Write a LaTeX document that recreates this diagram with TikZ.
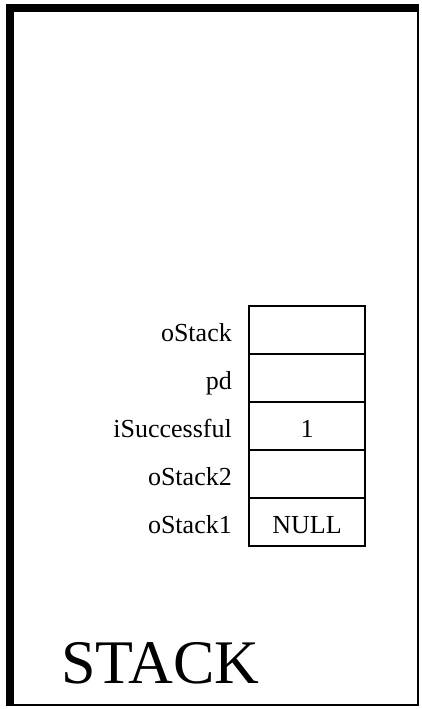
\documentclass[tikz,border=0pt]{standalone}
\usepackage{fontspec}
\setmainfont{Liberation Serif}
\begin{document}
\begin{tikzpicture}[x=1pt,y=-1pt,
  cell/.style={draw=black,line width=2pt,minimum width=116pt,minimum height=48pt,inner sep=0pt},
  val/.style={anchor=base,inner sep=0pt,font=\fontsize{26}{30}\selectfont},
  lbl/.style={anchor=base east,inner sep=0pt,font=\fontsize{26}{30}\selectfont}]
\useasboundingbox (0,0) rectangle (421,709);
\fill[black] (6,4) rectangle (419,706);
\fill[white] (14,12) rectangle (417,704);
\node[cell] (c1) at (307,330) {};
\node[cell] (c2) at (307,378) {};
\node[cell] (c3) at (307,426) {};
\node[cell] (c4) at (307,474) {};
\node[cell] (c5) at (307,522) {};
\node[val] (v3) at (307,437) {1};
\node[val] (v5) at (307,533) {NULL};
\node[lbl] (l1) at (232,341) {oStack};
\node[lbl] (l2) at (232,389) {pd};
\node[lbl] (l3) at (232,437) {iSuccessful};
\node[lbl] (l4) at (232,485) {oStack2};
\node[lbl] (l5) at (232,533) {oStack1};
\node[anchor=base west,inner sep=0pt,font=\fontsize{62}{66}\selectfont] (st) at (61,683) {STACK};
\end{tikzpicture}
\end{document}
